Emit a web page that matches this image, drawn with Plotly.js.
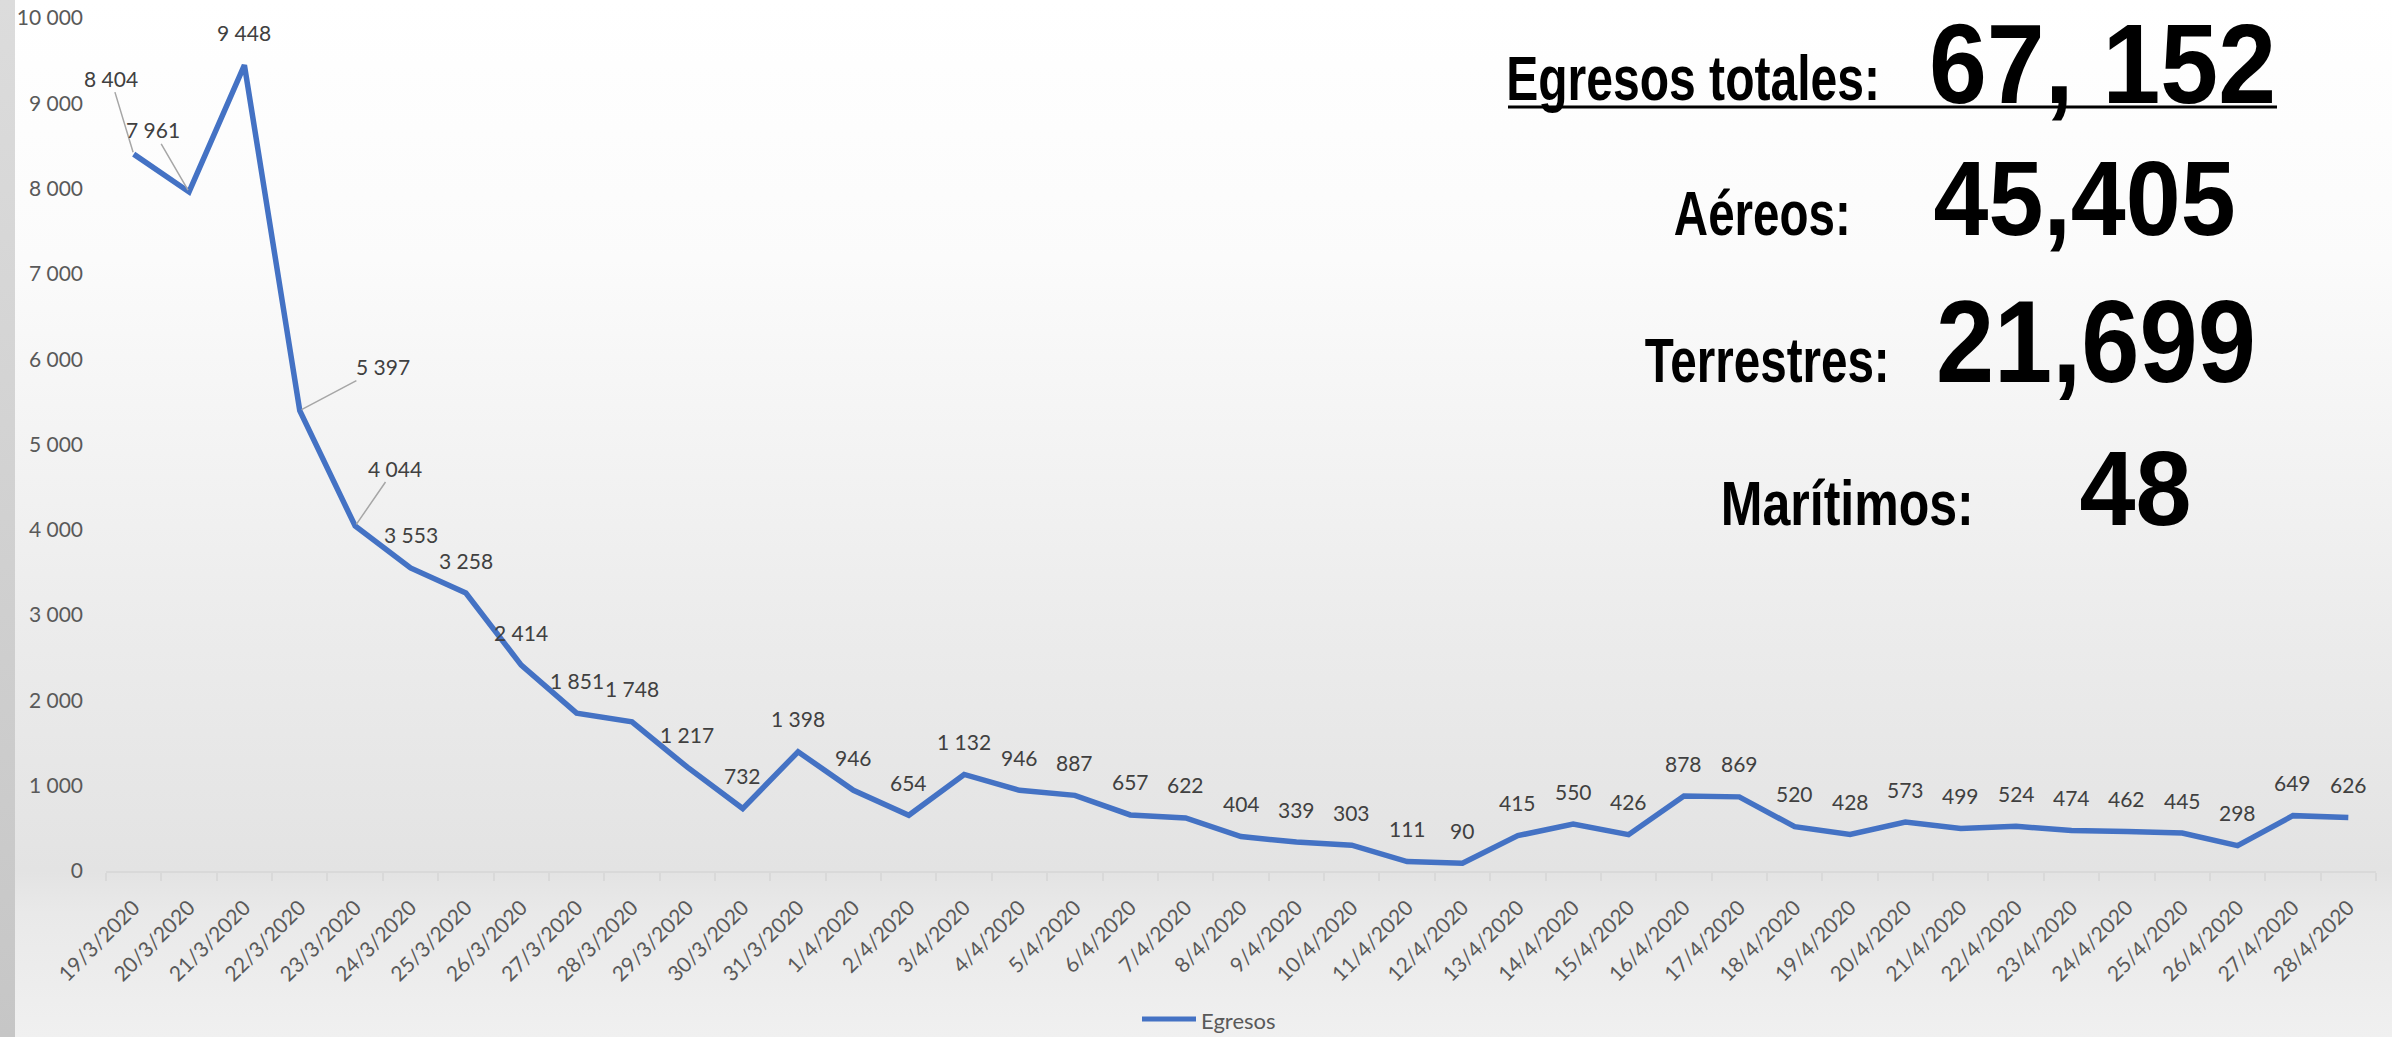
<!DOCTYPE html>
<html>
<head>
<meta charset="utf-8">
<script src="https://cdn.plot.ly/plotly-3.0.1.min.js"></script>
<style>
  html, body { margin:0; padding:0; width:2392px; height:1037px; overflow:hidden; }
  body {
    background: linear-gradient(to bottom, #ffffff 0%, #fbfbfb 25%, #ececec 60%, #e3e3e3 84%, #e9e9e9 88%, #f0f0f0 100%);
  }
  #bar { position:absolute; left:0; top:0; width:15px; height:1037px;
         background: linear-gradient(to bottom, #dcdcdc 0%, #c6c6c6 100%); }
  #chart { position:absolute; left:0; top:0; width:2392px; height:1037px; }
</style>
</head>
<body>
<div id="bar"></div>
<div id="chart"></div>
<script>
// ---- data ----
const fechas = ["19/3/2020","20/3/2020","21/3/2020","22/3/2020","23/3/2020","24/3/2020","25/3/2020",
  "26/3/2020","27/3/2020","28/3/2020","29/3/2020","30/3/2020","31/3/2020","1/4/2020","2/4/2020",
  "3/4/2020","4/4/2020","5/4/2020","6/4/2020","7/4/2020","8/4/2020","9/4/2020","10/4/2020",
  "11/4/2020","12/4/2020","13/4/2020","14/4/2020","15/4/2020","16/4/2020","17/4/2020","18/4/2020",
  "19/4/2020","20/4/2020","21/4/2020","22/4/2020","23/4/2020","24/4/2020","25/4/2020","26/4/2020",
  "27/4/2020","28/4/2020"];
const egresos = [8404,7961,9448,5397,4044,3553,3258,2414,1851,1748,1217,732,1398,946,654,1132,946,887,
  657,622,404,339,303,111,90,415,550,426,878,869,520,428,573,499,524,474,462,445,298,649,626];
const serieNombre = "Egresos";
const resumenEtiquetas = ["Egresos totales:", "Aéreos:", "Terrestres:", "Marítimos:"];
const resumenValores = ["67, 152", "45,405", "21,699", "48"];

// ---- layout helpers (pixel geometry) ----
const W = 2392, H = 1037;
const PL = 106, PR = 2376, PT = 18, PB = 871;
const px = x => (x - PL) / (PR - PL);
const py = y => (PB - y) / (PB - PT);
const fmt = v => String(v).replace(/\B(?=(\d{3})+(?!\d))/g, ' ');

// leader-line label offsets (pixels) for the first points
const leaders = {0:[-23,-76], 1:[-36,-62], 3:[83,-44], 4:[40,-58]};

const labelFont = {family:"Lato, 'Open Sans', sans-serif", size:21, color:"#404040"};
const annotations = egresos.map((v, i) => {
  const base = {x: fechas[i], y: v, xref:'x', yref:'y', text: fmt(v), font: labelFont};
  if (leaders[i]) {
    return Object.assign(base, {showarrow:true, arrowhead:0, arrowwidth:1.5, arrowcolor:'#a6a6a6',
      ax: leaders[i][0], ay: leaders[i][1], standoff: 2});
  }
  return Object.assign(base, {showarrow:false, yshift:33});
});

// manual legend text
annotations.push({xref:'paper', yref:'paper', x:px(1199), y:py(1020), xanchor:'left', yanchor:'middle',
  showarrow:false, text:serieNombre, font:{family:"Lato, 'Open Sans', sans-serif", size:22, color:'#595959'}});

// summary block: [centre x, baseline y, font size, advance width] in pixels
const bigFam = "'Liberation Sans', Arial, sans-serif";
const labGeom = [[1693,100,63,374],[1762,235,63,177],[1767,382,63,245],[1847,525,63,253]];
const valGeom = [[2102,103,113,347],[2084,235,105,302],[2096,382,117,320],[2135,525,105,112]];
const summaryStart = annotations.length;
const stretch = [];
[[resumenEtiquetas, labGeom], [resumenValores, valGeom]].forEach(([texts, geom]) => {
  texts.forEach((t, i) => {
    const [cx, base, size, w] = geom[i];
    annotations.push({xref:'paper', yref:'paper', x:px(cx), y:py(base - 0.347*size), text:t,
      showarrow:false, xanchor:'center', yanchor:'middle',
      font:{family:bigFam, size:size, color:'#000000', weight:700}});
    stretch.push(w);
  });
});

const trace = {
  x: fechas, y: egresos, type:'scatter', mode:'lines', name: serieNombre,
  line: {color:'#4472C4', width:5.5}, hoverinfo:'skip', showlegend:false
};

const layout = {
  width: W, height: H,
  margin: {l:PL, r:W-PR, t:PT, b:H-PB},
  paper_bgcolor:'rgba(0,0,0,0)', plot_bgcolor:'rgba(0,0,0,0)',
  separators: ', ',
  font: {family:"Lato, 'Open Sans', sans-serif", color:'#595959'},
  xaxis: {
    type:'category', range:[-0.5, fechas.length-0.5], tickangle:-45, automargin:false,
    showgrid:false, zeroline:false, showline:true, linecolor:'#d9d9d9', linewidth:2,
    ticks:'outside', tickson:'boundaries', ticklen:8, tickcolor:'#d9d9d9', tickwidth:2,
    ticklabelstandoff:14,
    tickfont:{size:21, color:'#595959'}, fixedrange:true
  },
  yaxis: {
    range:[0,10000], dtick:1000, tick0:0, showgrid:false, zeroline:false, showline:false,
    separatethousands:true, tickformat:',d', ticks:'', ticklabelstandoff:22, automargin:false,
    tickfont:{size:21, color:'#595959'}, fixedrange:true
  },
  showlegend:false,
  shapes: [
    {type:'line', xref:'paper', yref:'paper', x0:px(1508), x1:px(2277), y0:py(107), y1:py(107),
     line:{color:'#000000', width:3}},
    {type:'line', xref:'paper', yref:'paper', x0:px(1142), x1:px(1196), y0:py(1019), y1:py(1019),
     line:{color:'#4472C4', width:5}}
  ],
  annotations: annotations
};

Plotly.newPlot('chart', [trace], layout, {displayModeBar:false, staticPlot:true}).then(gd => {
  gd.querySelectorAll('g.annotation').forEach(g => {
    const idx = +g.getAttribute('data-index');
    const k = idx - summaryStart;
    if (k >= 0 && k < stretch.length) {
      const t = g.querySelector('text.annotation-text');
      if (t) {
        const bb = t.getBBox();
        const natural = t.getComputedTextLength() || bb.width;
        const s = stretch[k] / natural;
        const cx = bb.x + bb.width / 2;
        t.setAttribute('transform', `translate(${cx} 0) scale(${s} 1) translate(${-cx} 0)`);
        const r = g.querySelector('rect.bg');
        if (r) {
          const rw = +r.getAttribute('width'), rx = +r.getAttribute('x') || 0;
          const rc = rx + rw / 2, nw = rw * s;
          r.setAttribute('x', rc - nw / 2);
          r.setAttribute('width', nw);
        }
      }
    }
  });
});
</script>
</body>
</html>
